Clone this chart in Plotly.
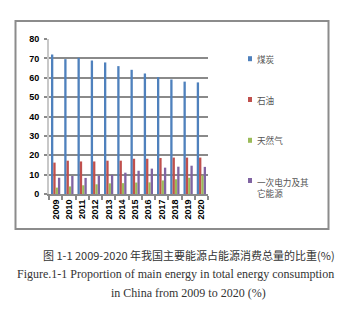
import plotly.graph_objects as go

years = [str(y) for y in range(2009, 2021)]
coal = [72.0, 69.6, 70.3, 68.9, 67.9, 66.0, 64.1, 62.2, 60.3, 59.1, 58.0, 57.6]
oil = [16.2, 17.2, 16.8, 16.8, 17.2, 17.2, 18.2, 18.2, 18.6, 18.8, 18.8, 18.8]
gas = [3.3, 3.9, 4.5, 5.0, 5.5, 5.6, 5.9, 6.0, 7.0, 7.6, 8.4, 9.6]
other = [8.4, 9.3, 8.3, 9.5, 9.9, 11.0, 12.0, 13.1, 13.6, 14.1, 14.6, 14.0]

series_names = ["煤炭", "石油", "天然气", "一次电力及其<br>它能源"]
series_values = [coal, oil, gas, other]
colors = ["#4F81BD", "#C0504D", "#9BBB59", "#8064A2"]
y_ticks = [0, 10, 20, 30, 40, 50, 60, 70, 80]

caption_cn = "图 1-1 2009-2020 年我国主要能源占能源消费总量的比重(%)"
caption_en1 = "Figure.1-1 Proportion of main energy in total energy consumption"
caption_en2 = "in China from 2009 to 2020 (%)"

W, H = 350, 325
L, R, T, B = 49, 142, 39, 131
PW = W - L - R
PH = H - T - B


def px(x):
    return (x - L) / PW


def py(y):
    return (H - B - y) / PH


fig = go.Figure()
for name, vals, col in zip(series_names, series_values, colors):
    fig.add_trace(go.Bar(x=years, y=vals, name=name, marker=dict(color=col, line=dict(width=0)),
                         showlegend=False))

fig.update_layout(
    width=W, height=H,
    margin=dict(l=L, r=R, t=T, b=B, pad=0),
    paper_bgcolor="white", plot_bgcolor="white",
    barmode="group", bargap=0.3, bargroupgap=0.0,
    font=dict(family="Liberation Sans, Arial", size=9, color="black"),
)
fig.update_yaxes(
    range=[0, 80], tickvals=y_ticks, showgrid=True, gridcolor="#8a8a8a", gridwidth=2,
    showline=True, linecolor="#c8c8c8", linewidth=2, ticks="outside", ticklen=3,
    tickcolor="#8a8a8a", tickwidth=1.5, zeroline=False,
    tickfont=dict(family="Liberation Sans, Arial", size=9, color="black", weight="bold"),
    ticklabelstandoff=3,
)
fig.update_xaxes(
    type="category", showline=True, linecolor="#8a8a8a", linewidth=2, ticks="outside",
    ticklen=4, tickcolor="#8a8a8a", tickwidth=1.5, tickson="boundaries", tickangle=-90,
    tickfont=dict(family="Liberation Sans, Arial", size=9, color="black", weight="bold"),
    showgrid=False,
)

shapes = []
annotations = []
# outer chart frame
shapes.append(dict(type="rect", xref="paper", yref="paper", x0=px(15.5), x1=px(328.5),
                   y0=py(229), y1=py(21), line=dict(color="#8c8c8c", width=2)))

# legend (built from series names and colors)
row_y = [58.7, 99.5, 140.3, 180.5]
for name, col, yy in zip(series_names, colors, row_y):
    shapes.append(dict(type="rect", xref="paper", yref="paper", x0=px(248), x1=px(252),
                       y0=py(yy + 2.5), y1=py(yy - 2.5), fillcolor=col, line=dict(width=0)))
    if "<br>" in name:
        annotations.append(dict(xref="paper", yref="paper", x=px(254.5), y=py(yy - 6.5),
                                text=name, showarrow=False, xanchor="left", yanchor="top",
                                align="left",
                                font=dict(family="Noto Sans CJK SC", size=8.6, color="#555555")))
    else:
        annotations.append(dict(xref="paper", yref="paper", x=px(254.5), y=py(yy),
                                text=name, showarrow=False, xanchor="left", yanchor="middle",
                                align="left",
                                font=dict(family="Noto Sans CJK SC", size=8.6, color="#555555")))

# captions
annotations.append(dict(xref="paper", yref="paper", x=px(189), y=py(255), text=caption_cn,
                        showarrow=False, xanchor="center", yanchor="middle",
                        font=dict(family="Noto Sans CJK SC", size=11, color="#333333")))
annotations.append(dict(xref="paper", yref="paper", x=px(175.5), y=py(274), text=caption_en1,
                        showarrow=False, xanchor="center", yanchor="middle",
                        font=dict(family="Liberation Serif", size=12, color="#333333")))
annotations.append(dict(xref="paper", yref="paper", x=px(188), y=py(293), text=caption_en2,
                        showarrow=False, xanchor="center", yanchor="middle",
                        font=dict(family="Liberation Serif", size=12, color="#333333")))

fig.update_layout(shapes=shapes, annotations=annotations)
fig.write_html("out.html")
